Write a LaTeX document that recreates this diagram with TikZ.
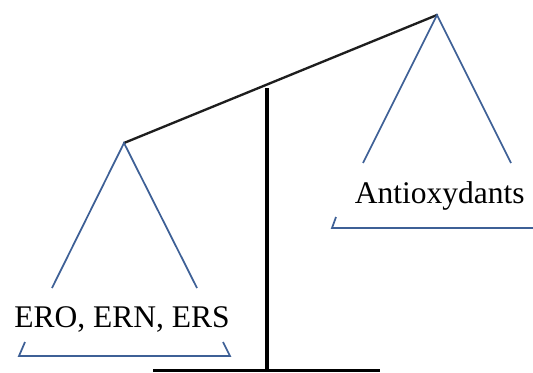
\documentclass[tikz,border=0pt]{standalone}
\usepackage{fontspec}
\setmainfont{Liberation Serif}
\usepackage{tikz}
\usetikzlibrary{positioning,calc}
\definecolor{panblue}{RGB}{62,96,150}
\definecolor{beamgray}{RGB}{30,30,30}

\begin{document}
\begin{tikzpicture}[
    panline/.style={draw=panblue, line width=1.5pt},
    beamline/.style={draw=beamgray, line width=2pt, line cap=round},
    standline/.style={draw=black, line width=2.6pt},
    pantext/.style={anchor=base, inner sep=0pt, font=\fontsize{26.9}{30}\selectfont}
]
    \useasboundingbox (0,0) rectangle (15.99,11.16);

    % apexes of the two pans and the pivot
    \coordinate (lapex) at (3.72,6.87);
    \coordinate (rapex) at (13.11,10.71);
    \coordinate (pivot) at (8.01,8.52);
    \coordinate (foot) at (8.01,0);

    % stand and base
    \draw[standline] (pivot) -- (foot);
    \draw[standline] (4.59,0.05) -- (11.40,0.05);
    \draw[beamline] (lapex) -- (rapex);

    % left pan
    \draw[panline] (1.56,2.52) -- (lapex) -- (5.91,2.52);
    \draw[panline] (0.75,0.90) -- (0.57,0.48) -- (6.90,0.48) -- (6.69,0.90);
    \node[pantext] (lload) at (3.66,1.35) {ERO, ERN, ERS};

    % right pan
    \draw[panline] (10.89,6.27) -- (rapex) -- (15.33,6.27);
    \draw[panline] (10.08,4.65) -- (9.96,4.32) -- (15.99,4.32);
    \node[pantext] (rload) at (13.19,5.07) {Antioxydants};
\end{tikzpicture}
\end{document}
